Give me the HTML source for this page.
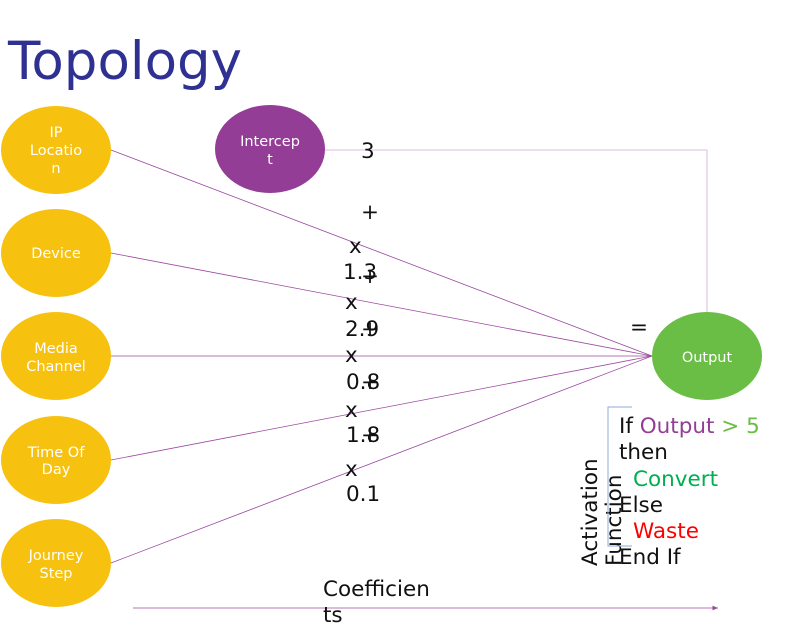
<!DOCTYPE html>
<html><head><style>
body{margin:0;background:#fff;}
svg{display:block;font-family:"DejaVu Sans","Liberation Sans",sans-serif;}
</style></head><body>
<svg width="792" height="631" viewBox="0 0 792 631">
<defs><marker id="a" markerWidth="8" markerHeight="8" refX="7" refY="3" orient="auto"><path d="M0,0 L7,3 L0,6z" fill="#9b4a9e"/></marker></defs>
<text x="8" y="79" font-size="53" fill="#2e3192">Topology</text>
<g stroke="#9b4a9e" stroke-width="0.8" fill="none">
<line x1="111" y1="150" x2="652" y2="356"/>
<line x1="111" y1="253" x2="652" y2="356"/>
<line x1="111" y1="356" x2="652" y2="356"/>
<line x1="111" y1="460" x2="652" y2="356"/>
<line x1="111" y1="563" x2="652" y2="356"/>
<polyline points="325,150 707,150 707,312" stroke="#d8a8d8"/>
<line x1="133" y1="608" x2="718" y2="608" marker-end="url(#a)"/>
</g>
<g fill="#f7c10f">
<ellipse cx="56" cy="150" rx="55" ry="44"/>
<ellipse cx="56" cy="253" rx="55" ry="44"/>
<ellipse cx="56" cy="356" rx="55" ry="44"/>
<ellipse cx="56" cy="460" rx="55" ry="44"/>
<ellipse cx="56" cy="563" rx="55" ry="44"/>
</g>
<ellipse cx="270" cy="149" rx="55" ry="44" fill="#933d96"/>
<ellipse cx="707" cy="356" rx="55" ry="44" fill="#6abd45"/>
<g fill="#fff" font-size="14.5" text-anchor="middle">
<text x="56" y="137">IP</text><text x="56" y="155">Locatio</text><text x="56" y="173">n</text>
<text x="56" y="258">Device</text>
<text x="56" y="353">Media</text><text x="56" y="371">Channel</text>
<text x="56" y="457">Time Of</text><text x="56" y="474">Day</text>
<text x="56" y="560">Journey</text><text x="56" y="578">Step</text>
<text x="270" y="146">Intercep</text><text x="270" y="164">t</text>
<text x="707" y="362">Output</text>
</g>
<g font-size="21.5" fill="#111">
<text x="361" y="158">3</text>
<text x="361" y="219">+</text>
<text x="349" y="253">x</text>
<text x="343" y="279">1.3</text>
<text x="361" y="283">+</text>
<text x="345" y="309">x</text>
<text x="345" y="336">2.9</text>
<text x="361" y="336">+</text>
<text x="345" y="362">x</text>
<text x="346" y="389">0.8</text>
<text x="361" y="389">+</text>
<text x="345" y="417">x</text>
<text x="346" y="442">1.8</text>
<text x="361" y="442">+</text>
<text x="345" y="476">x</text>
<text x="346" y="501">0.1</text>
<text x="630" y="334">=</text>
<text x="323" y="596">Coefficien</text>
<text x="323" y="622">ts</text>
<text x="619" y="433">If <tspan fill="#933d96">Output</tspan> <tspan fill="#6abd45">&gt; 5</tspan></text>
<text x="619" y="459">then</text>
<text x="633" y="486" fill="#00b050">Convert</text>
<text x="619" y="512">Else</text>
<text x="633" y="538" fill="#ff0000">Waste</text>
<text x="619" y="564">End If</text>
<text transform="translate(597,566) rotate(-90)">Activation</text>
<text transform="translate(621,566) rotate(-90)">Function</text>
</g>
<polyline points="632,407 608,407 608,546 632,546" fill="none" stroke="#8eaadb" stroke-width="1"/>
</svg>
</body></html>
